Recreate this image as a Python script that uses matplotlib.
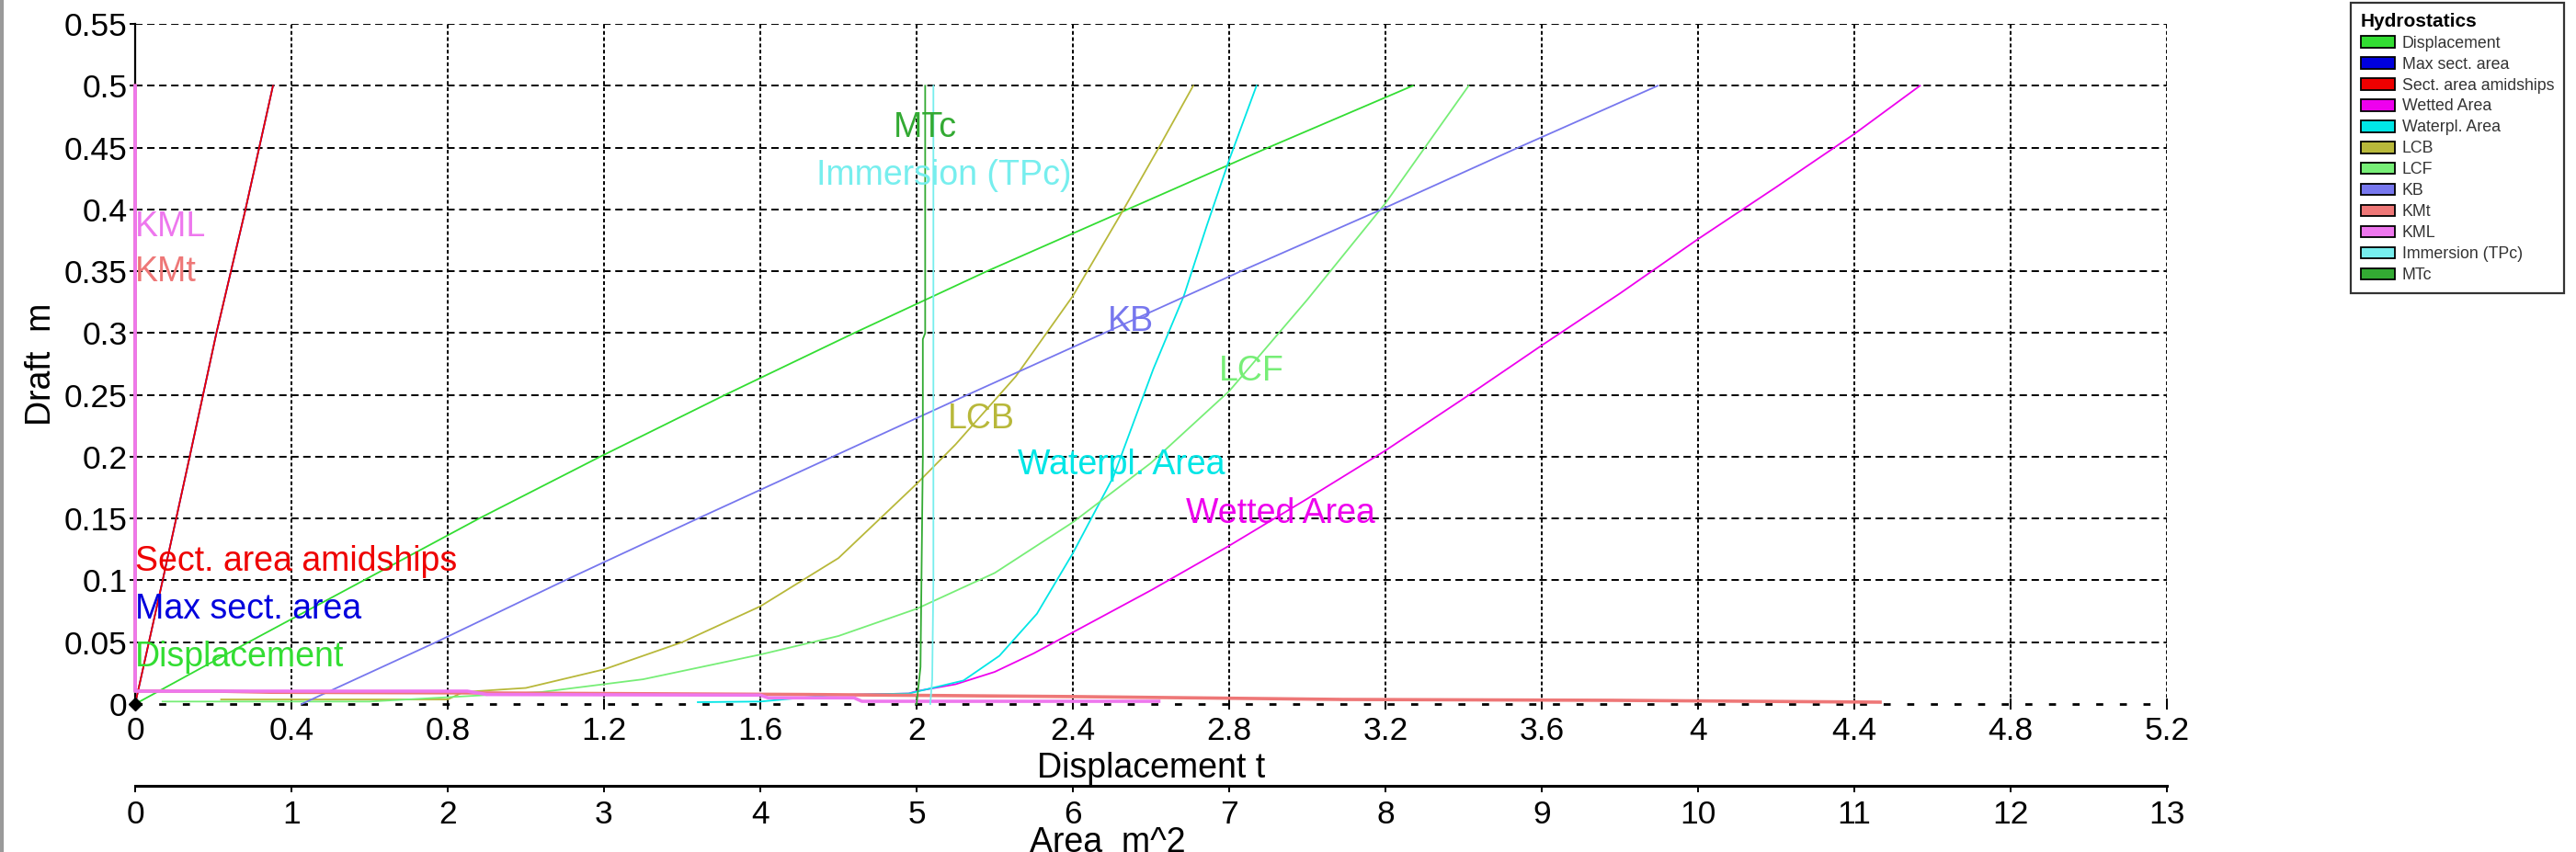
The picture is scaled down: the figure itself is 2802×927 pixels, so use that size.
import matplotlib
matplotlib.use("Agg")
import matplotlib.pyplot as plt
from matplotlib.patches import Patch
from matplotlib.lines import Line2D
from matplotlib.ticker import FixedLocator, FuncFormatter

plt.rcParams['font.family'] = ['Liberation Sans', 'DejaVu Sans']
plt.rcParams['lines.scale_dashes'] = False

# ---------------- data ----------------
AREA_PER_T = 2.5  # Area axis (m^2) units per Displacement axis (t) unit: 13 / 5.2

x_ticks_t = [0, 0.4, 0.8, 1.2, 1.6, 2.0, 2.4, 2.8, 3.2, 3.6, 4.0, 4.4, 4.8, 5.2]
x_ticks_area = [0, 1, 2, 3, 4, 5, 6, 7, 8, 9, 10, 11, 12, 13]
y_ticks_draft = [0, 0.05, 0.1, 0.15, 0.2, 0.25, 0.3, 0.35, 0.4, 0.45, 0.5, 0.55]

draft_disp = [0, 0.05, 0.1, 0.15, 0.2, 0.25, 0.3, 0.35, 0.4, 0.45, 0.5]
displacement_t = [0, 0.29, 0.585, 0.88, 1.19, 1.51, 1.84, 2.18, 2.54, 2.9, 3.27]

draft_sect = [0, 0.1, 0.2, 0.3, 0.4, 0.5]
max_sect_area_m2 = [0, 0.176, 0.349, 0.52, 0.706, 0.882]
sect_area_amidships_m2 = [0, 0.176, 0.349, 0.52, 0.706, 0.882]

draft_wetted = [0.0072, 0.0085, 0.0104, 0.016, 0.026, 0.041, 0.058, 0.092, 0.128, 0.166,
                0.205, 0.247, 0.29, 0.332, 0.376, 0.418, 0.461, 0.5]
wetted_area_m2 = [4.45, 4.95, 5.0, 5.25, 5.5, 5.75, 6.0, 6.5, 7.0, 7.5,
                  8.0, 8.5, 9.0, 9.5, 10.0, 10.5, 11.0, 11.42]

draft_wpl = [0.0015, 0.002, 0.0072, 0.0085, 0.010, 0.019, 0.039, 0.073,
             0.122, 0.184, 0.271, 0.33, 0.388, 0.44, 0.5]
waterpl_area_m2 = [3.6, 4.0, 4.45, 4.95, 5.0, 5.3, 5.53, 5.77,
                   6.0, 6.26, 6.515, 6.71, 6.86, 7.0, 7.175]

draft_lcb = [0.0037, 0.0037, 0.0097, 0.013, 0.028, 0.05, 0.079, 0.118,
             0.178, 0.21, 0.265, 0.33, 0.399, 0.45, 0.5]
lcb = [0.22, 0.8, 0.84, 1.0, 1.2, 1.4, 1.6, 1.8,
       2.0, 2.1, 2.254, 2.4, 2.528, 2.62, 2.708]

draft_lcf = [0.002, 0.002, 0.0097, 0.02, 0.04, 0.055, 0.077, 0.106,
             0.147, 0.195, 0.253, 0.327, 0.405, 0.5]
lcf = [0.07, 0.6, 1.04, 1.3, 1.6, 1.8, 2.0, 2.2,
       2.4, 2.6, 2.8, 3.0, 3.2, 3.413]

draft_kb = [0, 0.05, 0.1, 0.15, 0.2, 0.25, 0.3, 0.35, 0.4, 0.45, 0.5]
kb = [0.426, 0.77, 1.1, 1.44, 1.785, 2.13, 2.48, 2.83, 3.19, 3.54, 3.897]

draft_kmt = [0.5, 0.0105, 0.0104, 0.0095, 0.009, 0.0077, 0.006, 0.0037, 0.003, 0.0015]
kmt = [0.0, 0.0, 0.21, 0.35, 0.85, 1.72, 2.41, 3.09, 3.78, 4.466]

draft_kml = [0.5, 0.0104, 0.0104, 0.0077, 0.0072, 0.005, 0.005, 0.0022, 0.0022]
kml = [0.0, 0.0, 0.85, 0.9, 1.6, 1.62, 1.84, 1.86, 2.62]

draft_tpc = [0.0, 0.02, 0.1, 0.5]
immersion_tpc = [2.035, 2.04, 2.043, 2.043]

draft_mtc = [0.0, 0.03, 0.2, 0.295, 0.3, 0.5]
mtc = [2.0, 2.01, 2.016, 2.016, 2.022, 2.022]

series_names = ['Displacement', 'Max sect. area', 'Sect. area amidships', 'Wetted Area',
                'Waterpl. Area', 'LCB', 'LCF', 'KB', 'KMt', 'KML', 'Immersion (TPc)', 'MTc']

# ---------------- styles ----------------
colors = {
    'Displacement': '#33dd33',
    'Max sect. area': '#0000dd',
    'Sect. area amidships': '#ee0000',
    'Wetted Area': '#ee00ee',
    'Waterpl. Area': '#00e6e6',
    'LCB': '#b8b83a',
    'LCF': '#77ee77',
    'KB': '#7777ee',
    'KMt': '#ee7777',
    'KML': '#ee77ee',
    'Immersion (TPc)': '#77eeee',
    'MTc': '#33aa33',
}
label_pos = {
    'MTc': (1.94, 0.466),
    'Immersion (TPc)': (1.744, 0.427),
    'KB': (2.49, 0.309),
    'LCF': (2.774, 0.269),
    'LCB': (2.08, 0.2305),
    'Waterpl. Area': (2.26, 0.193),
    'Wetted Area': (2.69, 0.154),
    'Sect. area amidships': (0.0, 0.115),
    'Max sect. area': (0.0, 0.0766),
    'Displacement': (0.0, 0.038),
    'KML': (0.0, 0.386),
    'KMt': (0.0, 0.349),
}

W, H, DPI = 2802, 927, 100
fig = plt.figure(figsize=(W / DPI, H / DPI), dpi=DPI)
fig.patch.set_facecolor('white')

L, R, T, B = 147, 2357, 26, 766
ax = fig.add_axes([L / W, 1 - B / H, (R - L) / W, (B - T) / H])
ax.set_xlim(0, 5.2)
ax.set_ylim(0, 0.55)

FS = 25.5      # tick labels
FS_LAB = 27    # curve and axis labels
lw = 1.3

def to_t(vals):
    return [v / AREA_PER_T for v in vals]

curves = {
    'Displacement': (displacement_t, draft_disp),
    'Max sect. area': (to_t(max_sect_area_m2), draft_sect),
    'Sect. area amidships': (to_t(sect_area_amidships_m2), draft_sect),
    'Wetted Area': (to_t(wetted_area_m2), draft_wetted),
    'Waterpl. Area': (to_t(waterpl_area_m2), draft_wpl),
    'LCB': (lcb, draft_lcb),
    'LCF': (lcf, draft_lcf),
    'KB': (kb, draft_kb),
    'KMt': (kmt, draft_kmt),
    'KML': (kml, draft_kml),
    'Immersion (TPc)': (immersion_tpc, draft_tpc),
    'MTc': (mtc, draft_mtc),
}
for name in series_names:
    xs, ys = curves[name]
    w = 2.6 if name in ('KML', 'KMt') else lw
    ax.plot(xs, ys, color=colors[name], lw=w, zorder=4, clip_on=False)

for name, (x, y) in label_pos.items():
    ax.text(x, y, name, color=colors[name], fontsize=FS_LAB, ha='left', va='center', zorder=5)

# origin marker
ax.plot(displacement_t[:1], draft_disp[:1], marker='D', color='black', ms=7, zorder=6, clip_on=False)

# grid
for yv in y_ticks_draft[1:]:
    ax.axhline(yv, color='black', lw=1.4, dashes=(5.8, 3.6), zorder=1)
for xv in x_ticks_t[1:]:
    ax.axvline(xv, color='black', lw=1.4, dashes=(2.9, 2.0), zorder=1)
ax.axhline(0, color='black', lw=2.0, dashes=(5.5, 13), zorder=2, clip_on=False)

for s in ('top', 'right', 'bottom'):
    ax.spines[s].set_visible(False)
ax.spines['left'].set_linewidth(1.6)

ax.xaxis.set_major_locator(FixedLocator(x_ticks_t))
ax.yaxis.set_major_locator(FixedLocator(y_ticks_draft))
fmt = FuncFormatter(lambda v, p: f'{round(v, 3):g}')
ax.xaxis.set_major_formatter(fmt)
ax.yaxis.set_major_formatter(fmt)
ax.tick_params(axis='x', direction='inout', length=9, width=1.4, pad=5, labelsize=FS)
ax.tick_params(axis='y', direction='out', length=4, width=1.4, pad=2, labelsize=FS)

ax.set_xlabel('Displacement t', fontsize=FS_LAB, va='center')
ax.xaxis.set_label_coords(0.5, (B - 836) / (B - T))
ax.set_ylabel('Draft  m', fontsize=FS_LAB, va='center')
ax.yaxis.set_label_coords((45 - L) / (R - L), 0.5)

# secondary (area) axis
sec = ax.secondary_xaxis((B - 855) / (B - T),
                         functions=(lambda x: x * AREA_PER_T, lambda x: x / AREA_PER_T))
sec.xaxis.set_major_locator(FixedLocator(x_ticks_area))
sec.spines['bottom'].set_linewidth(2.2)
sec.tick_params(axis='x', direction='out', length=5, width=1.4, pad=5.5, labelsize=FS)
ax.text((1205 - L) / (R - L), (B - 927) / (B - T), 'Area  m^2', transform=ax.transAxes,
        fontsize=FS_LAB, ha='center', va='baseline', clip_on=False)

# legend
handles = [Patch(facecolor=colors[n], edgecolor='black', lw=1.3) for n in series_names]
leg = fig.legend(handles, series_names, loc='upper left',
                 bbox_to_anchor=(2557 / W, 1 - 3 / H), bbox_transform=fig.transFigure,
                 title='Hydrostatics', title_fontproperties={'weight': 'bold', 'size': 15},
                 fontsize=12.8, handlelength=2.1, handleheight=0.72, handletextpad=0.45,
                 labelspacing=0.335, borderpad=0.6, borderaxespad=0, alignment='left',
                 fancybox=False, framealpha=1, edgecolor='#333333')
leg.get_frame().set_linewidth(1.6)
for t in leg.get_texts():
    t.set_color('#333333')

# window border on the left
fig.add_artist(Line2D([2 / W, 2 / W], [0, 1], color='#9a9a9a', lw=3, transform=fig.transFigure))

fig.savefig('out.png', dpi=DPI, facecolor='white')
